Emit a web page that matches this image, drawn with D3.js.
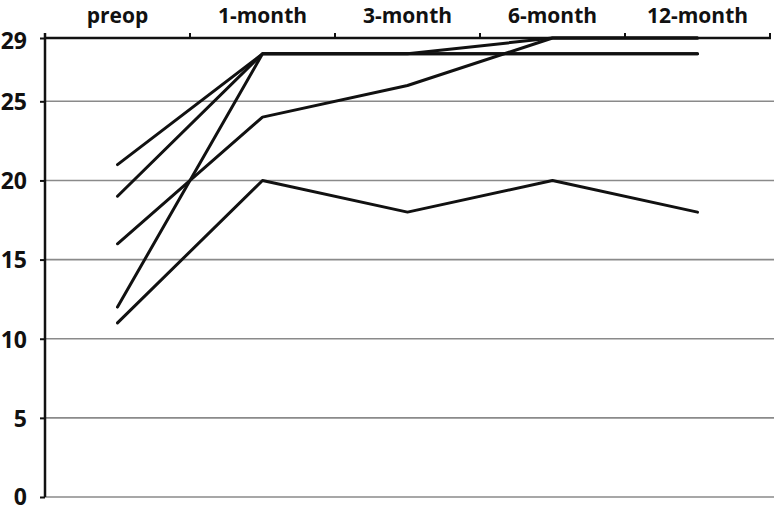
<!DOCTYPE html>
<html><head><meta charset="utf-8">
<script src="https://cdn.jsdelivr.net/npm/d3@7"></script>
<style>body{margin:0;background:#fff}svg{display:block}text{font-family:"Open Sans",sans-serif;font-weight:700;fill:#111}</style>
</head><body><div id="c"></div>
<script>
const categories = ["preop","1-month","3-month","6-month","12-month"];
const yTicks = [0,5,10,15,20,25,29];
const s1 = [21,28,28,28,28];
const s2 = [19,28,28,29,29];
const s3 = [16,24,26,29,29];
const s4 = [12,28,28,28,28];
const s5 = [11,20,18,20,18];
const series = [s1,s2,s3,s4,s5];

const W=774,H=511;
const svg=d3.select("#c").append("svg").attr("width",W).attr("height",H);
const x=d3.scaleBand().domain(categories).range([45,770]);
const y=d3.scaleLinear().domain([0,29]).range([497,38]);

// grid
svg.append("g").selectAll("line").data(yTicks.filter(d=>d<29)).join("line")
  .attr("x1",45).attr("x2",W).attr("y1",d=>y(d)).attr("y2",d=>y(d))
  .attr("stroke","#8a8a8a").attr("stroke-width",1.6);

// left axis
const ya=svg.append("g").attr("transform","translate(45,0)")
  .call(d3.axisLeft(y).tickValues(yTicks).tickSize(5).tickPadding(13));
ya.select(".domain").remove();
ya.selectAll(".tick line").attr("stroke","#111").attr("stroke-width",2);
ya.selectAll("text").style("font-size","23px").attr("fill","#111")
  .attr("dy",d=>d===0?"7px":d===29?"0.45em":"0.36em");
svg.append("line").attr("x1",45).attr("x2",45).attr("y1",33).attr("y2",497).attr("stroke","#111").attr("stroke-width",2.5);

// top axis
const xa=svg.append("g").attr("transform","translate(0,38)")
  .call(d3.axisTop(x).tickSize(0).tickPadding(15));
xa.select(".domain").remove();
xa.selectAll("text").style("font-size","21px").attr("fill","#111");
svg.append("g").selectAll("line").data(categories).join("line")
  .attr("x1",d=>x(d)+x.bandwidth()).attr("x2",d=>x(d)+x.bandwidth())
  .attr("y1",33).attr("y2",38).attr("stroke","#111").attr("stroke-width",2);
svg.append("line").attr("x1",45).attr("x2",771).attr("y1",y(29)).attr("y2",y(29)).attr("stroke","#111").attr("stroke-width",2.5);

// lines
const line=d3.line().x((d,i)=>x(categories[i])+x.bandwidth()/2).y(d=>y(d));
svg.append("g").selectAll("path").data(series).join("path")
  .attr("d",line).attr("fill","none").attr("stroke","#111").attr("stroke-width",3)
  .attr("stroke-linejoin","round").attr("stroke-linecap","round");
</script></body></html>
